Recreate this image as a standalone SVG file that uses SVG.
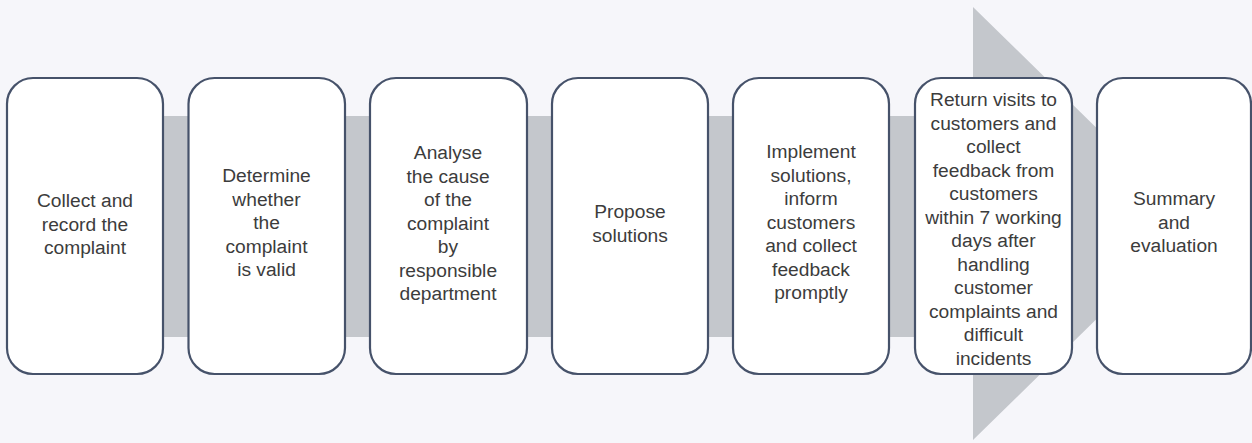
<svg xmlns="http://www.w3.org/2000/svg" width="1252" height="443" viewBox="0 0 1252 443">
<style>
.box{fill:#ffffff;stroke:#46526a;stroke-width:2.2}
.lbl{font-family:"Liberation Sans",Arial,Helvetica,sans-serif;font-size:19.2px;fill:#3c3c3c;text-anchor:middle}
</style>
<rect x="0" y="0" width="1252" height="443" fill="#f6f6fa"/>
<g id="connectors">
<polygon points="30,116 973,116 973,7 1194,223.5 973,440 973,337 30,337" fill="#c4c7cc"/>
</g>
<g id="node1">
<rect class="box" x="7" y="78" width="156" height="296" rx="26" ry="26"/>
<text class="lbl" x="85" y="207"><tspan x="85">Collect and</tspan><tspan x="85" dy="23.5">record the</tspan><tspan x="85" dy="23.5">complaint</tspan></text>
</g>
<g id="node2">
<rect class="box" x="188.5" y="78" width="156.5" height="296" rx="26" ry="26"/>
<text class="lbl" x="266.5" y="182"><tspan x="266.5">Determine</tspan><tspan x="266.5" dy="23.5">whether</tspan><tspan x="266.5" dy="23.5">the</tspan><tspan x="266.5" dy="23.5">complaint</tspan><tspan x="266.5" dy="23.5">is valid</tspan></text>
</g>
<g id="node3">
<rect class="box" x="370" y="78" width="157" height="296" rx="26" ry="26"/>
<text class="lbl" x="448" y="159"><tspan x="448">Analyse</tspan><tspan x="448" dy="23.5">the cause</tspan><tspan x="448" dy="23.5">of the</tspan><tspan x="448" dy="23.5">complaint</tspan><tspan x="448" dy="23.5">by</tspan><tspan x="448" dy="23.5">responsible</tspan><tspan x="448" dy="23.5">department</tspan></text>
</g>
<g id="node4">
<rect class="box" x="552" y="78" width="156" height="296" rx="26" ry="26"/>
<text class="lbl" x="630" y="218"><tspan x="630">Propose</tspan><tspan x="630" dy="23.5">solutions</tspan></text>
</g>
<g id="node5">
<rect class="box" x="733" y="78" width="156" height="296" rx="26" ry="26"/>
<text class="lbl" x="811" y="158"><tspan x="811">Implement</tspan><tspan x="811" dy="23.5">solutions,</tspan><tspan x="811" dy="23.5">inform</tspan><tspan x="811" dy="23.5">customers</tspan><tspan x="811" dy="23.5">and collect</tspan><tspan x="811" dy="23.5">feedback</tspan><tspan x="811" dy="23.5">promptly</tspan></text>
</g>
<g id="node6">
<rect class="box" x="915" y="78" width="157" height="296" rx="26" ry="26"/>
<text class="lbl" x="993.5" y="106"><tspan x="993.5">Return visits to</tspan><tspan x="993.5" dy="23.5">customers and</tspan><tspan x="993.5" dy="23.5">collect</tspan><tspan x="993.5" dy="23.5">feedback from</tspan><tspan x="993.5" dy="23.5">customers</tspan><tspan x="993.5" dy="23.5">within 7 working</tspan><tspan x="993.5" dy="23.5">days after</tspan><tspan x="993.5" dy="23.5">handling</tspan><tspan x="993.5" dy="23.5">customer</tspan><tspan x="993.5" dy="23.5">complaints and</tspan><tspan x="993.5" dy="23.5">difficult</tspan><tspan x="993.5" dy="23.5">incidents</tspan></text>
</g>
<g id="node7">
<rect class="box" x="1097" y="78" width="154" height="296" rx="26" ry="26"/>
<text class="lbl" x="1174" y="205"><tspan x="1174">Summary</tspan><tspan x="1174" dy="23.5">and</tspan><tspan x="1174" dy="23.5">evaluation</tspan></text>
</g>
</svg>
